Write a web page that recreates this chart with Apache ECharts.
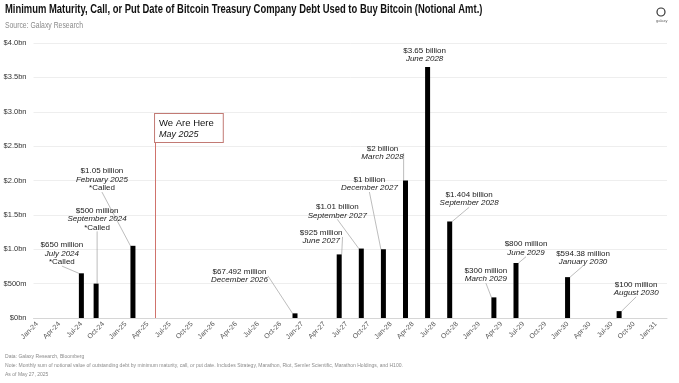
<!DOCTYPE html>
<html>
<head>
<meta charset="utf-8">
<script src="https://cdn.jsdelivr.net/npm/echarts@6/dist/echarts.min.js"></script>
<style>
html,body{margin:0;padding:0;background:#fff;}
#chart{width:679px;height:383px;}
</style>
</head>
<body>
<div id="chart"></div>
<script>
// ---- Data ----
const monthNames = ['Jan','Feb','Mar','Apr','May','Jun','Jul','Aug','Sep','Oct','Nov','Dec'];
const firstYear = 24, lastYear = 31, categoryCount = 86; // Jan-24 .. Feb-31
const categories = [];
for (let y = firstYear; y <= lastYear; y++) {
  for (const m of monthNames) categories.push(m + '-' + y);
}
categories.length = categoryCount;

const debtMonths = ['Jul-24','Sep-24','Feb-25','Dec-26','Jun-27','Sep-27','Dec-27','Mar-28','Jun-28','Sep-28','Mar-29','Jun-29','Jan-30','Aug-30'];
const debtValues = [0.65, 0.5, 1.05, 0.067492, 0.925, 1.01, 1.0, 2.0, 3.65, 1.404, 0.3, 0.8, 0.59438, 0.1]; // $bn
const labelAmounts = ['$650 million','$500 million','$1.05 billion','$67.492 million','$925 million','$1.01 billion','$1 billion','$2 billion','$3.65 billion','$1.404 billion','$300 million','$800 million','$594.38 million','$100 million'];
const labelDates = ['July 2024','September 2024','February 2025','December 2026','June 2027','September 2027','December 2027','March 2028','June 2028','September 2028','March 2029','June 2029','January 2030','August 2030'];
const labelNotes = ['*Called','*Called','*Called','','','','','','','','','','',''];
const yTicks = [0, 0.5, 1, 1.5, 2, 2.5, 3, 3.5, 4];
const nowMonth = 'May-25';

// ---- Styling (label offsets in px, relative to bar top) ----
const labelOffsets = [[-19.5,-7],[1,-52],[-31,-53.5],[-55.5,-29],[-18,-9],[-24,-29],[-14,-57],[-23,-19],[-3,-4],[19.5,-14],[-8,-14],[10,-6],[15.5,-11],[17,-14]];

const seriesData = categories.map(c => {
  const i = debtMonths.indexOf(c);
  if (i < 0) return '-';
  const item = { value: debtValues[i] };
  if (Math.abs(labelOffsets[i][0]) < 5 && Math.abs(labelOffsets[i][1]) < 8) item.labelLine = { show: false };
  return item;
});

const chart = echarts.init(document.getElementById('chart'), null, { renderer: 'canvas' });
const baseFont = '"Liberation Sans", Arial, sans-serif';

chart.setOption({
  animation: false,
  backgroundColor: '#ffffff',
  textStyle: { fontFamily: baseFont },
  grid: { left: 33.5, right: 12, top: 43, bottom: 65, containLabel: false },
  xAxis: {
    type: 'category',
    data: categories,
    boundaryGap: true,
    axisLine: { show: true, lineStyle: { color: '#d6d6d6', width: 1 } },
    axisTick: { show: false },
    axisLabel: { interval: 2, rotate: 45, fontSize: 7, color: '#555', margin: 5, fontFamily: baseFont }
  },
  yAxis: {
    type: 'value',
    min: 0, max: 4, interval: 0.5,
    axisLine: { show: false },
    axisTick: { show: false },
    splitLine: { lineStyle: { color: '#eeeeee', width: 1 } },
    axisLabel: {
      fontSize: 7.5, color: '#333', margin: 7, fontFamily: baseFont,
      formatter: v => v === 0 ? '$0bn' : (v === 0.5 ? '$500m' : '$' + v.toFixed(1) + 'bn')
    }
  },
  series: [{
    type: 'bar',
    data: seriesData,
    barWidth: 5,
    itemStyle: { color: '#000000' },
    label: {
      show: true,
      position: 'top',
      distance: 0,
      formatter: p => {
        const i = debtMonths.indexOf(p.name);
        let s = '{a|' + labelAmounts[i] + '}\n{b|' + labelDates[i] + '}';
        if (labelNotes[i]) s += '\n{a|' + labelNotes[i] + '}';
        return s;
      },
      rich: {
        a: { fontSize: 8, lineHeight: 8.5, color: '#1a1a1a', fontFamily: baseFont, align: 'center' },
        b: { fontSize: 8, lineHeight: 8.5, color: '#1a1a1a', fontFamily: baseFont, fontStyle: 'italic', align: 'center' }
      }
    },
    labelLine: { show: true, lineStyle: { color: '#a0a0a0', width: 0.7 } },
    labelLayout: params => {
      const i = debtMonths.indexOf(categories[params.dataIndex]);
      if (i < 0) return {};
      return { dx: labelOffsets[i][0], dy: labelOffsets[i][1] };
    },
    markLine: {
      silent: true,
      symbol: 'none',
      animation: false,
      lineStyle: { color: '#d0736c', width: 1, type: 'solid', opacity: 1 },
      label: {
        show: true,
        position: 'end',
        align: 'left',
        distance: 0,
        padding: [4, 9, 3, 4],
        backgroundColor: '#ffffff',
        borderColor: '#c27a74',
        borderWidth: 1,
        formatter: '{a|We Are Here}\n{b|May 2025}',
        rich: {
          a: { fontSize: 9.5, lineHeight: 11, color: '#111', fontFamily: baseFont },
          b: { fontSize: 9, lineHeight: 10, color: '#111', fontFamily: baseFont, fontStyle: 'italic' }
        }
      },
      data: [[{ xAxis: nowMonth, yAxis: 0 }, { xAxis: nowMonth, yAxis: 2.56 }]]
    }
  }],
  graphic: [
    { type: 'text', x: 5, y: 3, scaleX: 0.725, style: { text: 'Minimum Maturity, Call, or Put Date of Bitcoin Treasury Company Debt Used to Buy Bitcoin (Notional Amt.)', font: 'bold 13px ' + baseFont, fill: '#111', verticalAlign: 'top' } },
    { type: 'text', x: 5, y: 20, scaleX: 0.72, style: { text: 'Source: Galaxy Research', font: '9.5px ' + baseFont, fill: '#8a8a8a', verticalAlign: 'top' } },
    { type: 'circle', shape: { cx: 661, cy: 12, r: 4 }, style: { fill: 'none', stroke: '#333', lineWidth: 1.2 } },
    { type: 'text', x: 656, y: 19, style: { text: 'galaxy', font: '4px ' + baseFont, fill: '#666', verticalAlign: 'top' } },
    { type: 'text', x: 5, y: 353, scaleX: 0.84, style: { text: 'Data: Galaxy Research, Bloomberg', font: '6px ' + baseFont, fill: '#8a8a8a', verticalAlign: 'top' } },
    { type: 'text', x: 5, y: 362, scaleX: 0.84, style: { text: 'Note: Monthly sum of notional value of outstanding debt by minimum maturity, call, or put date. Includes Strategy, Marathon, Riot, Semler Scientific, Marathon Holdings, and H100.', font: '6px ' + baseFont, fill: '#8a8a8a', verticalAlign: 'top' } },
    { type: 'text', x: 5, y: 371, scaleX: 0.84, style: { text: 'As of May 27, 2025', font: '6px ' + baseFont, fill: '#8a8a8a', verticalAlign: 'top' } }
  ]
});
</script>
</body>
</html>
